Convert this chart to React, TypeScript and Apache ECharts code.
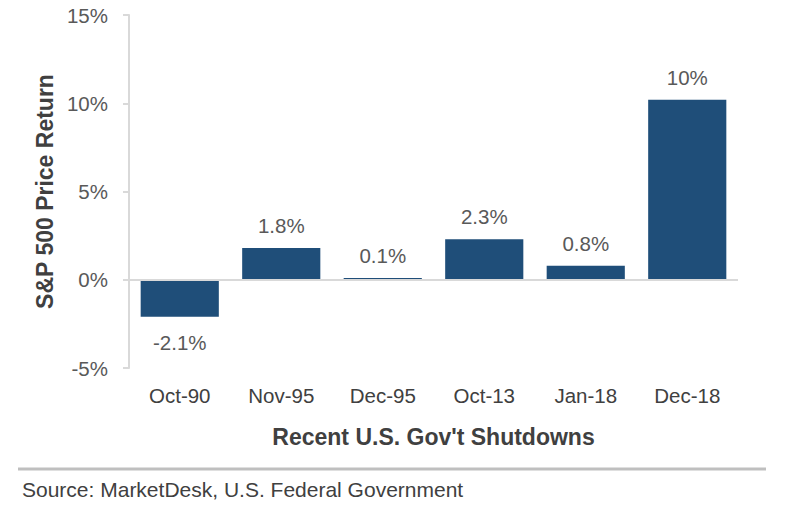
import React, { useEffect, useRef } from "react";
import * as echarts from "echarts";

const categories = ["Oct-90", "Nov-95", "Dec-95", "Oct-13", "Jan-18", "Dec-18"];
const returns = [-2.1, 1.8, 0.1, 2.3, 0.8, 10.2];
const valueLabels = ["-2.1%", "1.8%", "0.1%", "2.3%", "0.8%", "10%"];
const yTicks = [-5, 0, 5, 10, 15];

const FONT = "'Liberation Sans', Arial, sans-serif";

export default function App() {
  const ref = useRef<HTMLDivElement>(null);
  useEffect(() => {
    if (!ref.current) return;
    const chart = echarts.init(ref.current, null, { renderer: "svg" });
    chart.setOption({
      animation: false,
      backgroundColor: "#ffffff",
      grid: { left: 129, right: 52, top: 15, bottom: 141, containLabel: false },
      xAxis: {
        type: "category",
        data: categories,
        name: "Recent U.S. Gov't Shutdowns",
        nameLocation: "middle",
        nameGap: 57,
        nameTextStyle: { fontFamily: FONT, fontSize: 23, fontWeight: "bold", color: "#404040" },
        axisLine: { show: false },
        axisTick: { show: false },
        axisLabel: { fontFamily: FONT, fontSize: 20.5, color: "#404040", margin: 17 },
        position: "bottom",
      },
      yAxis: {
        type: "value",
        min: yTicks[0],
        max: yTicks[yTicks.length - 1],
        interval: 5,
        name: "S&P 500 Price Return",
        nameLocation: "middle",
        nameGap: 72,
        nameTextStyle: { fontFamily: FONT, fontSize: 23, fontWeight: "bold", color: "#404040" },
        axisLine: { show: true, lineStyle: { color: "#d9d9d9", width: 2 } },
        axisTick: { show: true, length: 6, lineStyle: { color: "#d9d9d9", width: 2 } },
        splitLine: { show: false },
        axisLabel: {
          fontFamily: FONT,
          fontSize: 20.5,
          color: "#595959",
          margin: 21,
          formatter: (v: number) => `${v}%`,
        },
      },
      series: [
        {
          type: "bar",
          data: returns.map((v) =>
            v < 0 ? { value: v, label: { position: "bottom", distance: 15 } } : v
          ),
          barWidth: "77%",
          itemStyle: { color: "#1f4e79" },
          label: {
            show: true,
            position: "top",
            distance: 12,
            fontFamily: FONT,
            fontSize: 20.5,
            color: "#595959",
            formatter: (p: any) => valueLabels[p.dataIndex],
          },
          markLine: {
            silent: true,
            symbol: ["none", "none"],
            label: { show: false },
            lineStyle: { color: "#d9d9d9", width: 2, type: "solid" },
            data: [{ yAxis: 0 }],
          },
          z: 2,
        },
      ],
      graphic: [
        {
          type: "line",
          shape: { x1: 18, y1: 469, x2: 766, y2: 469 },
          style: { stroke: "#bfbfbf", lineWidth: 3 },
        },
        {
          type: "text",
          left: 22,
          top: 479,
          style: {
            text: "Source: MarketDesk, U.S. Federal Government",
            font: `21px ${FONT}`,
            fill: "#404040",
          },
        },
      ],
    });
    return () => chart.dispose();
  }, []);
  return (
    <div
      ref={ref}
      style={{ position: "fixed", left: 0, top: 0, width: 790, height: 509 }}
    />
  );
}
